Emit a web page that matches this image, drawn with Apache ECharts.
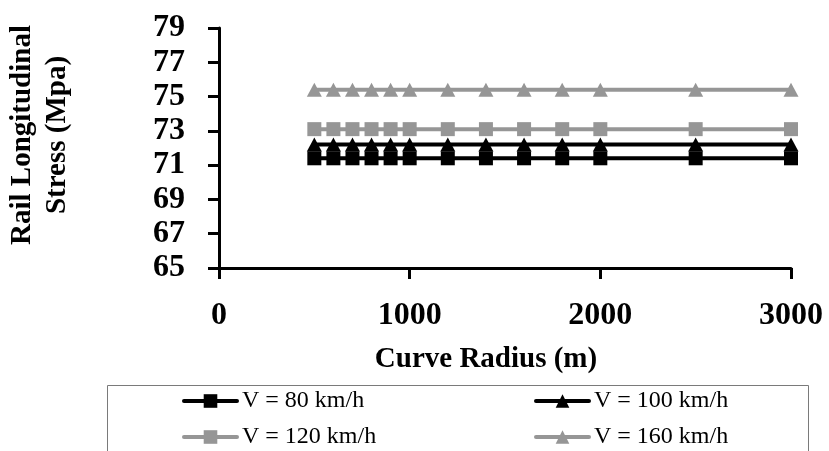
<!DOCTYPE html>
<html>
<head>
<meta charset="utf-8">
<script src="https://cdn.jsdelivr.net/npm/echarts@6/dist/echarts.min.js"></script>
<style>html,body{margin:0;padding:0;background:#fff;}#c{width:829px;height:451px;}</style>
</head>
<body>
<div id="c"></div>
<script>
const radii = [500, 600, 700, 800, 900, 1000, 1200, 1400, 1600, 1800, 2000, 2500, 3000];
const v80 = [71.4, 71.4, 71.4, 71.4, 71.4, 71.4, 71.4, 71.4, 71.4, 71.4, 71.4, 71.4, 71.4];
const v100 = [72.2, 72.2, 72.2, 72.2, 72.2, 72.2, 72.2, 72.2, 72.2, 72.2, 72.2, 72.2, 72.2];
const v120 = [73.1, 73.1, 73.1, 73.1, 73.1, 73.1, 73.1, 73.1, 73.1, 73.1, 73.1, 73.1, 73.1];
const v160 = [75.4, 75.4, 75.4, 75.4, 75.4, 75.4, 75.4, 75.4, 75.4, 75.4, 75.4, 75.4, 75.4];
const seriesNames = ['V = 80 km/h', 'V = 100 km/h', 'V = 120 km/h', 'V = 160 km/h'];
const xTitle = 'Curve Radius (m)';
const yTitle = 'Rail Longitudinal\nStress (Mpa)';

const BLACK = '#000000', GRAY = '#969696';
const FONT = "'Liberation Serif','Times New Roman',serif";
function pairs(vals) { return radii.map((r, i) => [r, vals[i]]); }
function mk(name, vals, color, symbol) {
  return {
    name: name, type: 'line', data: pairs(vals),
    symbol: symbol, symbolSize: symbol === 'triangle' ? [15, 14] : 14,
    itemStyle: { color: color },
    lineStyle: { color: color, width: 4 },
    animation: false
  };
}
function legendCol(left, names) {
  return {
    orient: 'horizontal', left: left, top: 389, width: 240,
    itemWidth: 53, itemHeight: 17, itemGap: 12, padding: 0,
    data: names,
    lineStyle: { width: 4, cap: 'round' },
    textStyle: { color: '#000', fontFamily: FONT, fontSize: 24 }
  };
}
const chart = echarts.init(document.getElementById('c'));
chart.setOption({
  backgroundColor: '#fff',
  animation: false,
  grid: { left: 219, right: 38, top: 28, bottom: 183, containLabel: false },
  xAxis: {
    type: 'value', min: 0, max: 3000, interval: 1000,
    axisLine: { lineStyle: { color: '#000', width: 3 } },
    axisTick: { show: true, length: 11, lineStyle: { color: '#000', width: 3 } },
    axisLabel: { color: '#000', fontFamily: FONT, fontWeight: 'bold', fontSize: 32, margin: 32,
      formatter: function (v) { return String(v); } },
    splitLine: { show: false },
    name: xTitle, nameLocation: 'middle', nameGap: 77,
    nameTextStyle: { color: '#000', fontFamily: FONT, fontWeight: 'bold', fontSize: 29, padding: [0, 38, 0, 0] }
  },
  yAxis: {
    type: 'value', min: 65, max: 79, interval: 2,
    axisLine: { show: true, lineStyle: { color: '#000', width: 3 } },
    axisTick: { show: true, length: 11, lineStyle: { color: '#000', width: 3 } },
    axisLabel: { color: '#000', fontFamily: FONT, fontWeight: 'bold', fontSize: 32, margin: 34 },
    splitLine: { show: false }
  },
  legend: [
    legendCol(182, [seriesNames[0], seriesNames[2]]),
    legendCol(534, [seriesNames[1], seriesNames[3]])
  ],
  graphic: [
    {
      type: 'rect', left: 105, top: 383, z: -1,
      shape: { width: 701, height: 120 },
      style: { fill: 'none', stroke: '#7a7a7a', lineWidth: 1 }
    },
    {
      type: 'text', x: 40, y: 135, rotation: Math.PI / 2,
      style: {
        text: yTitle, fill: '#000', font: "bold 29px 'Liberation Serif', serif",
        textAlign: 'center', textVerticalAlign: 'middle', lineHeight: 35
      }
    }
  ],
  series: [
    mk(seriesNames[0], v80, BLACK, 'rect'),
    mk(seriesNames[1], v100, BLACK, 'triangle'),
    mk(seriesNames[2], v120, GRAY, 'rect'),
    mk(seriesNames[3], v160, GRAY, 'triangle')
  ]
});
</script>
</body>
</html>
